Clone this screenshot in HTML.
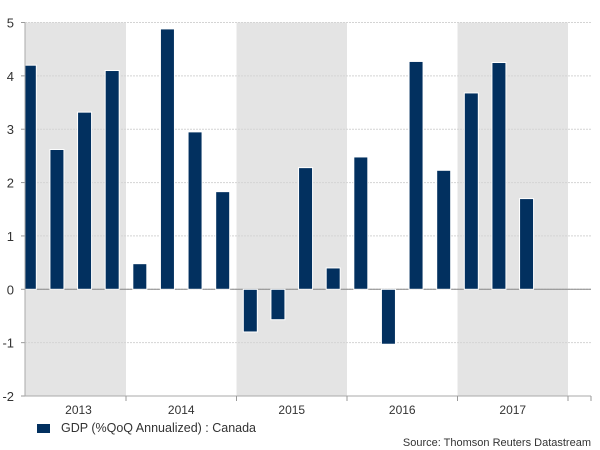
<!DOCTYPE html>
<html><head><meta charset="utf-8"><style>
body{margin:0;background:#fff;}
svg{display:block;font-family:"Liberation Sans",sans-serif;}
</style></head><body>
<svg id="chart" width="600" height="450"></svg>
<script>
const years=["2013","2014","2015","2016","2017"];
const yTicks=[-2,-1,0,1,2,3,4,5];
const values=[4.2,2.62,3.32,4.1,0.48,4.88,2.95,1.83,-0.8,-0.57,2.28,0.4,2.48,-1.03,4.27,2.23,3.68,4.25,1.7];
const NS="http://www.w3.org/2000/svg";
const svg=document.getElementById('chart');
const L=25,R=591,T=22.5,B=396,yMin=-2,yMax=5;
const x0=15.5,yearW=110.5,qW=yearW/4;
const y=v=>T+(yMax-v)/(yMax-yMin)*(B-T);
const xYear=i=>x0+i*yearW;
function el(t,a,p){const e=document.createElementNS(NS,t);for(const k in a)e.setAttribute(k,a[k]);(p||svg).appendChild(e);return e;}
const defs=el('defs',{});const cp=el('clipPath',{id:'pc'},defs);el('rect',{x:L,y:0,width:R-L,height:450},cp);
years.forEach((yr,i)=>{if(i%2===0){const a=Math.max(L,xYear(i)),b=xYear(i+1);
const r=el('rect',{x:a,y:T,width:b-a,height:B-T,fill:'#e4e4e4'});

}});
yTicks.forEach(v=>{const g=el('line',{x1:L,x2:R,y1:y(v),y2:y(v),stroke:'#d4d4d4','stroke-dasharray':'2,1','stroke-width':1});


const t=el('text',{x:14,y:y(v)+5,'text-anchor':'end','font-size':13,fill:'#333'});t.textContent=v;


el('line',{x1:L-4,x2:L,y1:y(v),y2:y(v),stroke:'#999'});});
el('line',{x1:L,x2:R,y1:y(0),y2:y(0),stroke:'#888','stroke-width':1});
const g=el('g',{'clip-path':'url(#pc)'});
values.forEach((v,i)=>{const c=x0+qW*(i+0.5);const r=el('rect',{x:c-7,y:Math.min(y(v),y(0)),width:14,height:Math.abs(y(v)-y(0)),fill:'#02305f',stroke:'#fff','stroke-width':1},g);

});
el('line',{x1:L,x2:L,y1:T,y2:B,stroke:'#aaa'});
el('line',{x1:L,x2:R,y1:B,y2:B,stroke:'#aaa'});
for(let i=1;i<=5;i++){el('line',{x1:xYear(i),x2:xYear(i),y1:B,y2:B+5,stroke:'#999'});}
el('line',{x1:R,x2:R,y1:B,y2:B+5,stroke:'#999'});
years.forEach((yr,i)=>{const t=el('text',{x:(Math.max(L,xYear(i))+xYear(i+1))/2+(i===0?3:0),y:414,'text-anchor':'middle','font-size':12,fill:'#333'});t.textContent=yr;

});
</script>
<div style="position:absolute;left:37px;top:421px;font:12.5px 'Liberation Sans',sans-serif;color:#333;display:flex;align-items:center;">
<span style="width:13px;height:9px;background:#02305f;display:inline-block;margin-right:11px"></span><span>GDP (%QoQ Annualized) : Canada</span></div>
<div style="position:absolute;right:9px;top:437px;font:11px 'Liberation Sans',sans-serif;color:#333;">Source: Thomson Reuters Datastream</div>
</body></html>
